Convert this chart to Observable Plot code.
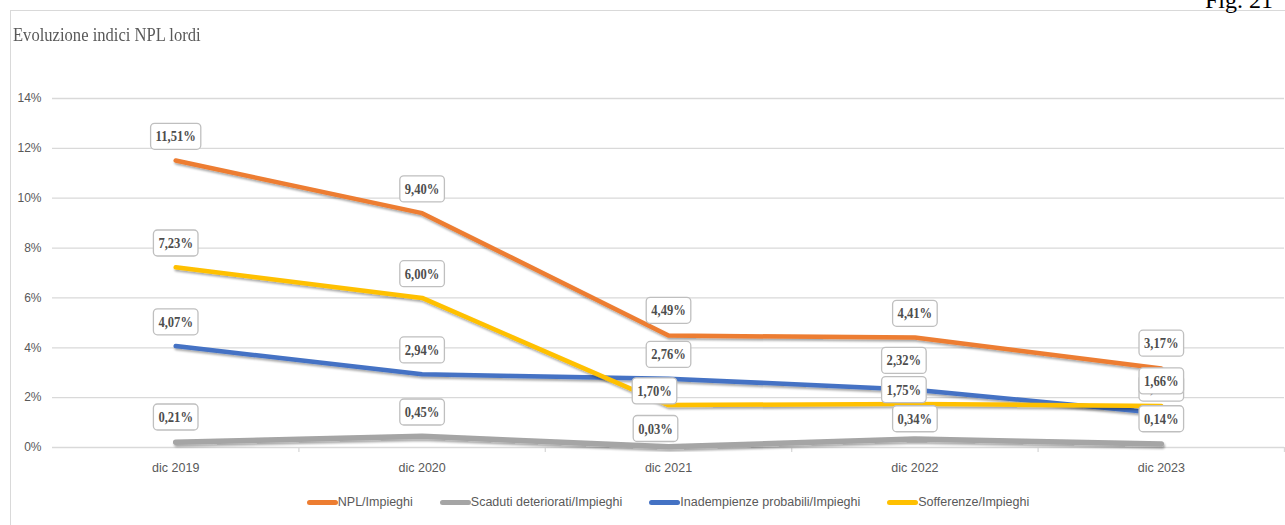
<!DOCTYPE html>
<html>
<head>
<meta charset="utf-8">
<script src="https://cdn.jsdelivr.net/npm/d3@7"></script>
<script src="https://cdn.jsdelivr.net/npm/@observablehq/plot@0.6"></script>
<style>
  body { margin: 0; background: #fff; }
  #page { position: relative; width: 1285px; height: 525px; overflow: hidden; font-family: "Liberation Sans", Arial, sans-serif; }
  #frameTop { position: absolute; left: 10px; top: 10px; width: 1275px; border-top: 1.5px solid #d9d9d9; }
  #frameLeft { position: absolute; left: 10px; top: 10px; height: 515px; border-left: 1.5px solid #d9d9d9; }
  #fig { position: absolute; left: 1205px; top: -12px; font: 24px/24px "Liberation Serif", "Times New Roman", serif; color: #000; white-space: nowrap; }
  #title { position: absolute; left: 13px; top: 25px; font: 19.5px/20px "Liberation Serif", "Times New Roman", serif; color: #595959; white-space: nowrap; transform: scaleX(0.85); transform-origin: 0 0; }
  #chart { position: absolute; left: 0; top: 0; }
  #legend { position: absolute; left: 52px; width: 1232px; top: 494px; display: flex; justify-content: center; gap: 27px; font-size: 12.5px; color: #595959; line-height: 16px; }
  #legend .item { display: flex; align-items: center; white-space: nowrap; }
  #legend .sw { display: inline-block; width: 31px; height: 5px; border-radius: 3px; }
</style>
</head>
<body>
<div id="page">
  <div id="frameTop"></div>
  <div id="frameLeft"></div>
  <div id="fig">Fig. 21</div>
  <div id="title">Evoluzione indici NPL lordi</div>
  <div id="chart"></div>
  <div id="legend"></div>
</div>
<script>
// Periods on the x axis
const periods = ["dic 2019", "dic 2020", "dic 2021", "dic 2022", "dic 2023"];

// Series names (legend order) and their colours
const seriesNames = ["NPL/Impieghi", "Scaduti deteriorati/Impieghi", "Inadempienze probabili/Impieghi", "Sofferenze/Impieghi"];
const seriesColors = ["#ED7D31", "#A5A5A5", "#4472C4", "#FFC000"];

// Ratios, in percent, one value per period
const nplImpieghi = [11.51, 9.40, 4.49, 4.41, 3.17];
const scadutiImpieghi = [0.21, 0.45, 0.03, 0.34, 0.14];
const inadempienzeImpieghi = [4.07, 2.94, 2.76, 2.32, 1.37];
const sofferenzeImpieghi = [7.23, 6.00, 1.70, 1.75, 1.66];

// Y axis ticks (percent)
const yTicks = [0, 2, 4, 6, 8, 10, 12, 14];

const seriesValues = [nplImpieghi, scadutiImpieghi, inadempienzeImpieghi, sofferenzeImpieghi];
const rows = seriesNames.flatMap((s, k) =>
  periods.map((p, i) => ({series: s, period: p, i, value: seriesValues[k][i]}))
);

const fmt = v => v.toFixed(2).replace(".", ",") + "%";

// Label placement relative to its point (pixels); default sits just above
const nudge = {
  "NPL/Impieghi|dic 2021": [0, -25],
  "NPL/Impieghi|dic 2023": [0, -25],
  "Scaduti deteriorati/Impieghi|dic 2019": [0, -25],
  "Scaduti deteriorati/Impieghi|dic 2021": [-13, -18],
  "Scaduti deteriorati/Impieghi|dic 2022": [0, -20],
  "Scaduti deteriorati/Impieghi|dic 2023": [0, -25],
  "Inadempienze probabili/Impieghi|dic 2022": [-11, -29],
  "Inadempienze probabili/Impieghi|dic 2023": [0, -25],
  "Sofferenze/Impieghi|dic 2021": [-14, -14],
  "Sofferenze/Impieghi|dic 2022": [-11, -14],
  "Sofferenze/Impieghi|dic 2023": [0, -25]
};

const lineWidth = {"Scaduti deteriorati/Impieghi": 5.5};

const lineMarks = seriesNames.map(s =>
  Plot.line(rows.filter(d => d.series === s), {
    x: "i", y: "value", stroke: "series",
    strokeWidth: lineWidth[s] || 4.5,
    strokeLinecap: "round", strokeLinejoin: "round"
  })
);

const labelMarks = rows.map(d => {
  const [dx, dy] = nudge[d.series + "|" + d.period] || [0, -24];
  return Plot.text([d], {
    x: "i", y: "value", text: r => fmt(r.value), dx, dy,
    fontFamily: "Liberation Serif, Times New Roman, serif", fontWeight: "bold",
    fontSize: 14.8, fill: "#4d4d4d"
  });
});

const chart = Plot.plot({
  width: 1285,
  height: 482,
  marginTop: 98,
  marginBottom: 35,
  marginLeft: 52,
  marginRight: 1,
  style: {background: "transparent", overflow: "visible"},
  x: {type: "linear", domain: [-0.5, 4.5], label: null},
  y: {domain: [0, 14], label: null},
  color: {domain: seriesNames, range: seriesColors},
  marks: [
    Plot.gridY(yTicks, {stroke: "#d9d9d9", strokeOpacity: 1, strokeWidth: 1.3}),
    Plot.axisY(yTicks, {tickSize: 0, tickPadding: 11, tickFormat: d => d + "%", fontSize: 12, fill: "#595959", label: null, fontFamily: "Liberation Sans, Arial, sans-serif"}),
    Plot.axisX([0.5, 1.5, 2.5, 3.5, 4.5], {tickSize: 5, stroke: "#d9d9d9", strokeWidth: 1.3, tickFormat: () => "", label: null}),
    Plot.axisX(periods.map((p, i) => i), {tickSize: 0, tickPadding: 16, tickFormat: i => periods[i], fontSize: 12.5, fill: "#595959", label: null, fontFamily: "Liberation Sans, Arial, sans-serif"}),
    ...lineMarks,
    ...labelMarks
  ]
});

document.getElementById("chart").append(chart);

// Soft drop shadow under the series lines
const ns = "http://www.w3.org/2000/svg";
const defs = document.createElementNS(ns, "defs");
defs.innerHTML = '<filter id="lineShadow" x="-5%" y="-50%" width="110%" height="200%"><feDropShadow dx="1" dy="2" stdDeviation="1.2" flood-color="#000" flood-opacity="0.35"/></filter>';
chart.prepend(defs);
d3.select(chart).selectAll('g[aria-label="line"]').attr("filter", "url(#lineShadow)");

// Narrow the serif value labels and put each on a white rounded box
d3.select(chart).selectAll('g[aria-label="text"] text').each(function () {
  const L = this.getComputedTextLength();
  const w = L * 0.85;
  this.setAttribute("textLength", w);
  this.setAttribute("lengthAdjust", "spacingAndGlyphs");
  const bb = this.getBBox();
  const cx = bb.x + bb.width / 2;
  const cy = bb.y + bb.height / 2;
  const rect = document.createElementNS(ns, "rect");
  const t = this.getAttribute("transform");
  if (t) rect.setAttribute("transform", t);
  rect.setAttribute("x", cx - w / 2 - 5);
  rect.setAttribute("y", cy - 13);
  rect.setAttribute("width", w + 10);
  rect.setAttribute("height", 26);
  rect.setAttribute("rx", 4);
  rect.setAttribute("fill", "#fff");
  rect.setAttribute("stroke", "#bfbfbf");
  rect.setAttribute("stroke-width", 1.3);
  this.parentNode.insertBefore(rect, this);
});

// Legend below the plot
const legend = d3.select("#legend");
seriesNames.forEach((s, k) => {
  const item = legend.append("div").attr("class", "item");
  item.append("span").attr("class", "sw").style("background", seriesColors[k]);
  item.append("span").text(s);
});
</script>
</body>
</html>
